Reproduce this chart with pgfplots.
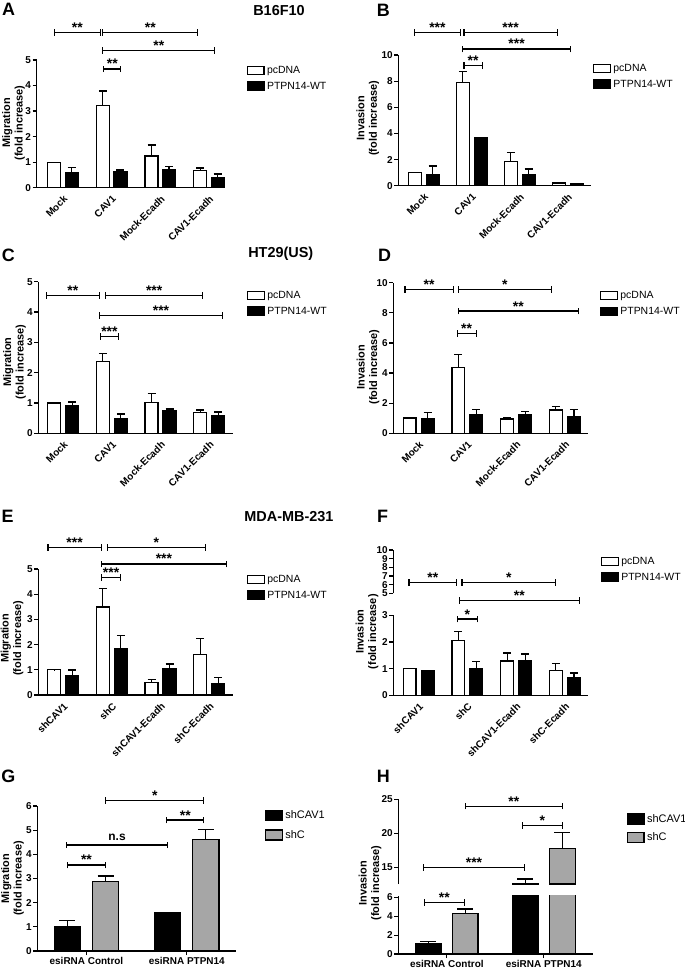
\documentclass[border=0pt]{standalone}
\usepackage{fontspec}
\setmainfont{Liberation Sans}
\usepackage{pgfplots}
\pgfplotsset{compat=1.18}
\definecolor{gbarc}{RGB}{166,166,166}
\newcommand\fTick{\fontsize{10}{11}\selectfont\bfseries}
\newcommand\fLab{\fontsize{11}{12.5}\selectfont\bfseries}
\newcommand\fLeg{\fontsize{10.5}{12}\selectfont}
\newcommand\fLegG{\fontsize{11}{13}\selectfont}
\newcommand\fTitle{\fontsize{14.5}{16}\selectfont\bfseries}
\newcommand\fLetter{\fontsize{18}{20}\selectfont\bfseries}
\newcommand\fStar{\fontsize{14}{16}\selectfont\bfseries}
\newcommand\fNs{\fontsize{12}{14}\selectfont\bfseries}
\newcommand\brk[5][]{%
 \draw[line width=1.2bp] (axis cs:#2,#4) -- (axis cs:#3,#4) node[midway, font=\fStar, anchor=base, inner sep=0pt, #1] {#5};
 \draw[line width=1.2bp] ([yshift=-3.3bp]axis cs:#2,#4) -- ([yshift=3.3bp]axis cs:#2,#4);
 \draw[line width=1.2bp] ([yshift=-3.3bp]axis cs:#3,#4) -- ([yshift=3.3bp]axis cs:#3,#4);}
\pgfplotsset{
 gp/.style={scale only axis, anchor=south west, axis x line*=bottom, axis y line*=left,
  enlargelimits=false, ymin=0, tick align=outside, major tick length=4bp,
  tick style={line width=1.2bp, black}, axis line style={line width=1.2bp, black},
  yticklabel style={font=\fTick, inner sep=1.5bp}, xticklabel style={font=\fTick, inner sep=1.5bp},
  ylabel style={font=\fLab, align=center, anchor=center},
  /pgf/number format/assume math mode=true,
  legend style={draw=none, fill=none, font=\fLeg, anchor=north west, inner sep=0pt, row sep=2bp, nodes={inner sep=2.5bp}},
  legend cell align=left, clip=false},
 rot/.style={xtick={0,1,2,3}, every major x tick/.append style={draw=none}, xticklabel style={rotate=45, anchor=north east, inner sep=2bp}},
 flat/.style={xtick={0,1}, xticklabel style={anchor=north, inner sep=2bp}},
 eb/.style={error bars/y dir=plus, error bars/y explicit, error bars/error mark=|,
  error bars/error mark options={line width=1.2bp, mark size=#1, black},
  error bars/error bar style={line width=1.2bp, black}},
 eb/.default=4bp,
 wbar/.style={ybar, bar shift=0pt, fill=white, draw=black, line width=1.2bp,
  legend image code/.code={\draw[fill=white, draw=black, line width=1.2bp] (0bp,-#1) rectangle (16.5bp,#1);}},
 wbar/.default=4.2bp,
 kbar/.style={ybar, bar shift=0pt, fill=black, draw=black, line width=1.2bp,
  legend image code/.code={\draw[fill=black, draw=black, line width=1.2bp] (0bp,-#1) rectangle (16.5bp,#1);}},
 kbar/.default=4.2bp,
 gbar/.style={ybar, bar shift=0pt, fill=gbarc, draw=black, line width=1.2bp,
  legend image code/.code={\draw[fill=gbarc, draw=black, line width=1.2bp] (0bp,-#1) rectangle (16.5bp,#1);}},
 gbar/.default=4.2bp,
}
\begin{document}
\begin{tikzpicture}
\useasboundingbox (0,0) rectangle (685bp,-972bp);
\node[font=\fLetter] at (8.5bp,-9.5bp) {A};
\node[font=\fTitle] at (279bp,-11bp) {B16F10};
\node[font=\fLetter] at (383.3bp,-10bp) {B};
\node[font=\fLetter] at (8.3bp,-255bp) {C};
\node[font=\fTitle] at (280.8bp,-254.2bp) {HT29(US)};
\node[font=\fLetter] at (384.7bp,-255bp) {D};
\node[font=\fLetter] at (7.5bp,-516.7bp) {E};
\node[font=\fTitle] at (289bp,-517bp) {MDA-MB-231};
\node[font=\fLetter] at (382.5bp,-516.7bp) {F};
\node[font=\fLetter] at (8.3bp,-776.7bp) {G};
\node[font=\fLetter] at (383.3bp,-776.7bp) {H};

% ---------- A ----------
\begin{axis}[gp, rot, at={(36.7bp,-187.7bp)}, width=187.3bp, height=127.7bp,
 xmin=-0.54, xmax=3.31, ymax=5, ytick={0,1,2,3,4,5},
 xticklabels={Mock,CAV1,Mock-Ecadh,CAV1-Ecadh},
 ylabel={Migration\\(fold increase)}, ylabel style={at={(axis description cs:-0.124,0.507)}},
 legend style={at={(1.121,0.973)}}]
\addplot[wbar, eb, bar width=0.27] coordinates {(-0.18,1.00) +- (0,0) (0.82,3.21) +- (0,0.58) (1.82,1.24) +- (0,0.43) (2.82,0.67) +- (0,0.10)};
\addplot[kbar, eb, bar width=0.27] coordinates {(0.18,0.60) +- (0,0.18) (1.18,0.63) +- (0,0.06) (2.18,0.72) +- (0,0.10) (3.18,0.39) +- (0,0.15)};
\legend{pcDNA,PTPN14-WT}
\brk{-0.18}{0.77}{6.08}{**}
\brk{0.82}{2.77}{6.08}{**}
\brk{0.82}{3.12}{5.37}{**}
\brk{0.84}{1.19}{4.65}{**}
\end{axis}

% ---------- B ----------
\begin{axis}[gp, rot, at={(398.3bp,-185.7bp)}, width=192.4bp, height=130.7bp,
 xmin=-0.53, xmax=3.48, ymax=10, ytick={0,2,4,6,8,10},
 xticklabels={Mock,CAV1,Mock-Ecadh,CAV1-Ecadh},
 ylabel={Invasion\\(fold increase)}, ylabel style={at={(axis description cs:-0.159,0.516)}},
 legend style={at={(1.012,0.95)}}]
\addplot[wbar, eb, bar width=0.265] coordinates {(-0.185,1.00) +- (0,0) (0.815,7.88) +- (0,0.84) (1.815,1.84) +- (0,0.71) (2.815,0.20) +- (0,0.05)};
\addplot[kbar, eb, bar width=0.265] coordinates {(0.185,0.84) +- (0,0.66) (1.185,3.65) +- (0,0.05) (2.185,0.84) +- (0,0.44) (3.185,0.13) +- (0,0.04)};
\legend{pcDNA,PTPN14-WT}
\brk{-0.2}{0.77}{11.73}{***}
\brk{0.84}{2.78}{11.73}{***}
\brk{0.81}{3.06}{10.46}{***}
\brk{0.84}{1.22}{9.18}{**}
\end{axis}

% ---------- C ----------
\begin{axis}[gp, rot, at={(38.3bp,-433.3bp)}, width=194.3bp, height=151.6bp,
 xmin=-0.51, xmax=3.48, ymax=5, ytick={0,1,2,3,4,5},
 xticklabels={Mock,CAV1,Mock-Ecadh,CAV1-Ecadh},
 ylabel={Migration\\(fold increase)}, ylabel style={at={(axis description cs:-0.122,0.47)}},
 legend style={at={(1.074,0.955)}}]
\addplot[wbar, eb, bar width=0.265] coordinates {(-0.185,1.00) +- (0,0) (0.815,2.38) +- (0,0.26) (1.815,1.02) +- (0,0.29) (2.815,0.69) +- (0,0.08)};
\addplot[kbar, eb, bar width=0.265] coordinates {(0.185,0.91) +- (0,0.12) (1.185,0.50) +- (0,0.14) (2.185,0.74) +- (0,0.06) (3.185,0.57) +- (0,0.13)};
\legend{pcDNA,PTPN14-WT}
\brk{-0.34}{0.74}{4.54}{**}
\brk{0.87}{2.87}{4.54}{***}
\brk{0.74}{3.28}{3.88}{***}
\brk{0.76}{1.14}{3.19}{***}
\end{axis}

% ---------- D ----------
\begin{axis}[gp, rot, at={(393.3bp,-433.3bp)}, width=195bp, height=150.6bp,
 xmin=-0.52, xmax=3.48, ymax=10, ytick={0,2,4,6,8,10},
 xticklabels={Mock,CAV1,Mock-Ecadh,CAV1-Ecadh},
 ylabel={Invasion\\(fold increase)}, ylabel style={at={(axis description cs:-0.13,0.44)}},
 legend style={at={(1.06,0.961)}}]
\addplot[wbar, eb, bar width=0.265] coordinates {(-0.185,1.02) +- (0,0) (0.815,4.38) +- (0,0.86) (1.815,0.95) +- (0,0.07) (2.815,1.55) +- (0,0.22)};
\addplot[kbar, eb, bar width=0.265] coordinates {(0.185,0.95) +- (0,0.42) (1.185,1.22) +- (0,0.38) (2.185,1.22) +- (0,0.24) (3.185,1.13) +- (0,0.47)};
\legend{pcDNA,PTPN14-WT}
\brk{-0.28}{0.71}{9.56}{**}
\brk{0.81}{2.73}{9.56}{*}
\brk{0.81}{3.28}{8.12}{**}
\brk{0.79}{1.18}{6.64}{**}
\end{axis}

% ---------- E ----------
\begin{axis}[gp, rot, at={(38.3bp,-695bp)}, width=194.3bp, height=126bp,
 xmin=-0.51, xmax=3.48, ymax=5, ytick={0,1,2,3,4,5},
 xticklabels={shCAV1,shC,shCAV1-Ecadh,shC-Ecadh},
 ylabel={Migration\\(fold increase)}, ylabel style={at={(axis description cs:-0.135,0.45)}},
 legend style={at={(1.074,0.972)}}]
\addplot[wbar, eb, bar width=0.265] coordinates {(-0.185,1.00) +- (0,0.01) (0.815,3.49) +- (0,0.73) (1.815,0.50) +- (0,0.13) (2.815,1.60) +- (0,0.65)};
\addplot[kbar, eb, bar width=0.265] coordinates {(0.185,0.77) +- (0,0.22) (1.185,1.85) +- (0,0.50) (2.185,1.03) +- (0,0.20) (3.185,0.45) +- (0,0.24)};
\legend{pcDNA,PTPN14-WT}
\brk{-0.31}{0.78}{5.86}{***}
\brk{0.91}{2.92}{5.86}{*}
\brk{0.79}{3.35}{5.2}{***}
\brk{0.79}{1.18}{4.67}{***}
\end{axis}

% ---------- F ----------
\begin{axis}[gp, at={(393.3bp,-593.3bp)}, width=195bp, height=43.3bp,
 axis x line=none, xmin=-0.52, xmax=3.48, ymin=5, ymax=10, ytick={5,6,7,8,9,10}]
\addplot[draw=none, forget plot] coordinates {(0,6)};
\end{axis}
\begin{axis}[gp, rot, at={(393.3bp,-695.3bp)}, width=195bp, height=80bp,
 xmin=-0.52, xmax=3.48, ymax=3, ytick={0,1,2,3},
 xticklabels={shCAV1,shC,shCAV1-Ecadh,shC-Ecadh},
 ylabel={Invasion\\(fold increase)}, ylabel style={at={(axis description cs:-0.135,0.795)}},
 legend style={at={(1.065,1.76)}}]
\addplot[wbar, eb, bar width=0.265] coordinates {(-0.185,1.01) +- (0,0.01) (0.815,2.05) +- (0,0.34) (1.815,1.29) +- (0,0.30) (2.815,0.94) +- (0,0.26)};
\addplot[kbar, eb, bar width=0.265] coordinates {(0.185,0.93) +- (0,0.01) (1.185,0.99) +- (0,0.27) (2.185,1.30) +- (0,0.25) (3.185,0.66) +- (0,0.18)};
\legend{pcDNA,PTPN14-WT}
\brk{-0.2}{0.78}{4.225}{**}
\brk{0.89}{2.81}{4.225}{*}
\brk{0.83}{3.3}{3.55}{**}
\brk{0.8}{1.2}{2.86}{*}
\end{axis}

% ---------- G ----------
\begin{axis}[gp, flat, at={(37.3bp,-951bp)}, width=198.7bp, height=145bp,
 xmin=-0.49, xmax=1.49, ymax=6, ytick={0,1,2,3,4,5,6},
 xticklabels={esiRNA Control,esiRNA PTPN14},
 ylabel={Migration\\(fold increase)}, ylabel style={at={(axis description cs:-0.125,0.5)}},
 legend style={at={(1.146,0.985)}, font=\fLegG, row sep=5bp}]
\addplot[kbar=5bp, eb=8bp, bar width=0.26] coordinates {(-0.19,1.02) +- (0,0.24) (0.81,1.57) +- (0,0.01)};
\addplot[gbar=5bp, eb=8bp, bar width=0.26] coordinates {(0.19,2.88) +- (0,0.22) (1.19,4.62) +- (0,0.40)};
\legend{shCAV1,shC}
\brk{0.19}{1.17}{6.22}{*}
\brk{0.8}{1.17}{5.42}{**}
\brk[font=\fNs, yshift=4bp]{-0.2}{0.81}{4.39}{n.s}
\brk{-0.19}{0.19}{3.56}{**}
\end{axis}

% ---------- H ----------
\begin{axis}[gp, flat, at={(398.3bp,-954bp)}, width=195bp, height=58.3bp,
 clip=true, clip mode=individual,
 xmin=-0.5, xmax=1.51, ymax=6.18, ytick={0,2,4,6},
 xticklabels={esiRNA Control,esiRNA PTPN14},
 ylabel={Invasion\\(fold increase)}, ylabel style={at={(axis description cs:-0.145,1.22)}}]
\addplot[kbar, eb=8bp, bar width=0.265] coordinates {(-0.19,1.09) +- (0,0.20)};
\addplot[gbar, eb=8bp, bar width=0.265] coordinates {(0.19,4.27) +- (0,0.50)};
\addplot[kbar, bar width=0.265] coordinates {(0.81,12.65)};
\addplot[gbar, bar width=0.265] coordinates {(1.19,17.8)};
\brk{-0.23}{0.18}{5.47}{**}
\end{axis}
\begin{axis}[gp, at={(398.3bp,-884bp)}, width=195bp, height=84.7bp,
 clip=true, clip mode=individual, axis x line=none,
 xmin=-0.5, xmax=1.51, ymin=12.55, ymax=25, ytick={15,20,25},
 legend style={at={(1.171,0.856)}, font=\fLegG, row sep=4bp}]
\addplot[kbar=5bp, eb=8bp, bar width=0.265] coordinates {(0.81,12.65) +- (0,0.65)};
\addplot[gbar=5bp, eb=8bp, bar width=0.265] coordinates {(1.19,17.8) +- (0,2.3)};
\legend{shCAV1,shC}
\brk{0.19}{1.19}{24.0}{**}
\brk{0.78}{1.19}{21.13}{*}
\brk{-0.24}{0.8}{15.0}{***}
\end{axis}
\end{tikzpicture}
\end{document}
